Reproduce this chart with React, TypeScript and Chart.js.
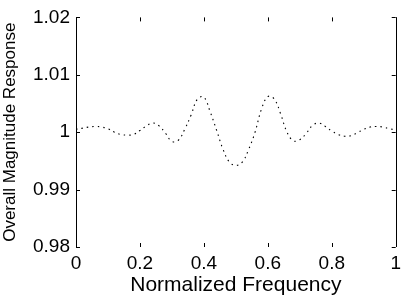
import React, { useEffect, useRef } from "react";
import { Chart, registerables } from "chart.js";

Chart.register(...registerables);

const freq: number[] = [
  0, 0.02, 0.04, 0.06, 0.08, 0.1, 0.12, 0.14, 0.16, 0.18, 0.2, 0.22, 0.24, 0.26, 0.28, 0.3, 0.32, 0.34,
  0.36, 0.38, 0.4, 0.42, 0.44, 0.46, 0.48, 0.5, 0.52, 0.54, 0.56, 0.58, 0.6, 0.62, 0.64, 0.66, 0.68,
  0.7, 0.72, 0.74, 0.76, 0.78, 0.8, 0.82, 0.84, 0.86, 0.88, 0.9, 0.92, 0.94, 0.96, 0.98, 1,
];
const response: number[] = [
  1.0005, 1.0007, 1.0009, 1.001, 1.0009, 1.0006, 1.0, 0.9996, 0.9995, 0.9996, 1.0003, 1.0011, 1.0016,
  1.0011, 0.9998, 0.9984, 0.9986, 1.0005, 1.003, 1.0058, 1.0061, 1.0035, 1.0003, 0.997, 0.9948, 0.9942,
  0.9948, 0.997, 1.0, 1.004, 1.0062, 1.0058, 1.0032, 1.0, 0.9985, 0.9987, 0.9998, 1.0012, 1.0016, 1.001,
  1.0002, 0.9996, 0.9993, 0.9994, 0.9999, 1.0005, 1.0009, 1.001, 1.0009, 1.0006, 1.0004,
];
const xTickLabels: string[] = ["0", "0.2", "0.4", "0.6", "0.8", "1"];
const yTickLabels: string[] = ["0.98", "0.99", "1", "1.01", "1.02"];
const xTitle = "Normalized Frequency";
const yTitle = "Overall Magnitude Response";

const FONT = "'Liberation Sans', Arial, Helvetica, sans-serif";

const boxPlugin = {
  id: "matlabBox",
  afterDraw(chart: any) {
    const { ctx, chartArea, scales } = chart;
    const { left, right, top, bottom } = chartArea;
    ctx.save();
    ctx.strokeStyle = "#000";
    ctx.lineWidth = 1;
    ctx.beginPath();
    ctx.moveTo(Math.round(left) + 0.5, top);
    ctx.lineTo(Math.round(left) + 0.5, bottom);
    ctx.moveTo(Math.round(right) + 0.5, top);
    ctx.lineTo(Math.round(right) + 0.5, bottom);
    const tl = 4;
    scales.y.ticks.forEach((t: any) => {
      const y = Math.round(scales.y.getPixelForValue(t.value)) + 0.5;
      ctx.moveTo(left, y);
      ctx.lineTo(left + tl, y);
      ctx.moveTo(right, y);
      ctx.lineTo(right - tl, y);
    });
    scales.x.ticks.forEach((t: any) => {
      const x = Math.round(scales.x.getPixelForValue(t.value)) + 0.5;
      ctx.moveTo(x, top);
      ctx.lineTo(x, top + tl);
      ctx.moveTo(x, bottom);
      ctx.lineTo(x, bottom - tl);
    });
    ctx.stroke();
    ctx.restore();
  },
};

export default function App() {
  const ref = useRef<HTMLCanvasElement | null>(null);
  useEffect(() => {
    document.body.style.margin = "0";
    const canvas = ref.current;
    if (!canvas) return;
    const chart = new Chart(canvas, {
      type: "line",
      data: {
        datasets: [
          {
            data: freq.map((f, i) => ({ x: f, y: response[i] })),
            borderColor: "#000",
            borderWidth: 1.1,
            borderDash: [1.5, 4],
            pointRadius: 0,
            tension: 0.4,
            fill: false,
          },
        ],
      },
      options: {
        responsive: false,
        animation: false,
        devicePixelRatio: 1,
        layout: { padding: { top: 7, right: 6, left: 0, bottom: 0 }, autoPadding: false },
        plugins: { legend: { display: false }, tooltip: { enabled: false } },
        scales: {
          x: {
            type: "linear",
            min: 0,
            max: 1,
            grid: { display: false, drawTicks: false },
            border: { display: false },
            afterFit: (s: any) => {
              s.height = 51;
            },
            ticks: {
              stepSize: 0.2,
              padding: 5,
              color: "#000",
              font: { family: FONT, size: 19 },
              maxRotation: 0,
              autoSkip: false,
              callback: (_v: any, i: number) => xTickLabels[i],
            },
            title: {
              display: true,
              text: xTitle,
              color: "#000",
              font: { family: FONT, size: 21 },
              padding: { top: 0, bottom: 0 },
            },
          },
          y: {
            type: "linear",
            min: 0.98,
            max: 1.02,
            grid: { display: false, drawTicks: false },
            border: { display: false },
            afterFit: (s: any) => {
              s.width = 76;
            },
            ticks: {
              stepSize: 0.01,
              padding: 6,
              color: "#000",
              font: { family: FONT, size: 19 },
              autoSkip: false,
              callback: (_v: any, i: number) => yTickLabels[i],
            },
            title: {
              display: true,
              text: yTitle,
              color: "#000",
              font: { family: FONT, size: 17 },
              padding: { top: 0, bottom: 0 },
            },
          },
        },
      },
      plugins: [boxPlugin],
    });
    return () => chart.destroy();
  }, []);
  return <canvas ref={ref} width={406} height={298} style={{ display: "block" }} />;
}
